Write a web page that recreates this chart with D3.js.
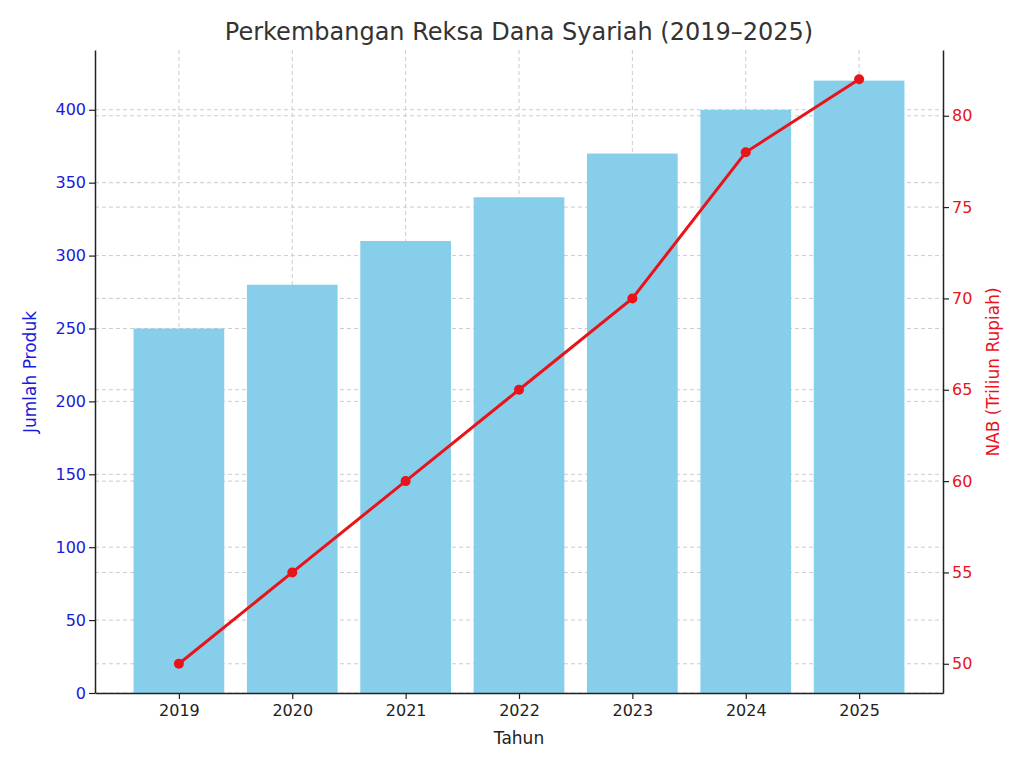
<!DOCTYPE html>
<html><head><meta charset="utf-8">
<script src="https://cdn.jsdelivr.net/npm/d3@7"></script>
<style>body{margin:0;background:#fff}text{font-family:"DejaVu Sans",sans-serif}</style>
</head><body><svg id="c" width="1024" height="768"></svg>
<script>
const years = ["2019","2020","2021","2022","2023","2024","2025"];
const produk = [250,280,310,340,370,400,420];
const nab = [50,55,60,65,70,78,82];
const leftTicks = [0,50,100,150,200,250,300,350,400];
const rightTicks = [50,55,60,65,70,75,80];

const svg = d3.select("#c");
const L=95,R=943,T=50,B=693;
const x = d3.scaleLinear().domain([-0.74,6.74]).range([L,R]);
const yL = d3.scaleLinear().domain([0,441]).range([B,T]);
const yR = d3.scaleLinear().domain([48.4,83.6]).range([B,T]);
const step = x(1)-x(0);

const g = svg.append("g");
const dash = "4,3";
// grids
g.selectAll(".gx").data(years).join("line").attr("x1",(d,i)=>x(i)).attr("x2",(d,i)=>x(i)).attr("y1",T).attr("y2",B).attr("stroke","#ccc").attr("stroke-dasharray",dash);
g.selectAll(".gl").data(leftTicks).join("line").attr("x1",L).attr("x2",R).attr("y1",d=>yL(d)).attr("y2",d=>yL(d)).attr("stroke","#ccc").attr("stroke-dasharray",dash);
g.selectAll(".gr").data(rightTicks).join("line").attr("x1",L).attr("x2",R).attr("y1",d=>yR(d)).attr("y2",d=>yR(d)).attr("stroke","#ccc").attr("stroke-dasharray",dash);

// bars
g.selectAll(".bar").data(produk).join("rect").attr("x",(d,i)=>x(i)-step*0.4).attr("width",step*0.8).attr("y",d=>yL(d)).attr("height",d=>B-yL(d)).attr("fill","#87CEEB");

// line
const line = d3.line().x((d,i)=>x(i)).y(d=>yR(d));
g.append("path").datum(nab).attr("d",line).attr("fill","none").attr("stroke","#e8141a").attr("stroke-width",3);
g.selectAll(".pt").data(nab).join("circle").attr("cx",(d,i)=>x(i)).attr("cy",d=>yR(d)).attr("r",5).attr("fill","#e8141a");

// axes
const ax = svg.append("g").attr("transform",`translate(0,${B})`).call(d3.axisBottom(x).tickValues(d3.range(7)).tickFormat(i=>years[i]).tickSizeOuter(0));
const aL = svg.append("g").attr("transform",`translate(${L},0)`).call(d3.axisLeft(yL).tickValues(leftTicks).tickSizeOuter(0));
const aR = svg.append("g").attr("transform",`translate(${R},0)`).call(d3.axisRight(yR).tickValues(rightTicks).tickSizeOuter(0));
[ax,aL,aR].forEach(a=>{a.selectAll("text").style("font-size","16px");a.selectAll("line").attr("stroke","#222").attr("stroke-width",1.2);a.select(".domain").attr("stroke","#222").attr("stroke-width",1.5);});
ax.selectAll("text").attr("fill","#222").attr("dy","0.9em");
aL.selectAll("text").attr("fill","#1a1adc");
aR.selectAll("text").attr("fill","#e8141a");

svg.append("text").attr("x",519).attr("y",40).attr("text-anchor","middle").style("font-size","24px").attr("fill","#333").text("Perkembangan Reksa Dana Syariah (2019–2025)");
svg.append("text").attr("x",519).attr("y",744).attr("text-anchor","middle").style("font-size","17px").attr("fill","#222").text("Tahun");
svg.append("text").attr("transform","translate(36,372) rotate(-90)").attr("text-anchor","middle").style("font-size","17px").attr("fill","#1a1adc").text("Jumlah Produk");
svg.append("text").attr("transform","translate(999,372) rotate(-90)").attr("text-anchor","middle").style("font-size","17px").attr("fill","#e8141a").text("NAB (Triliun Rupiah)");
</script></body></html>
